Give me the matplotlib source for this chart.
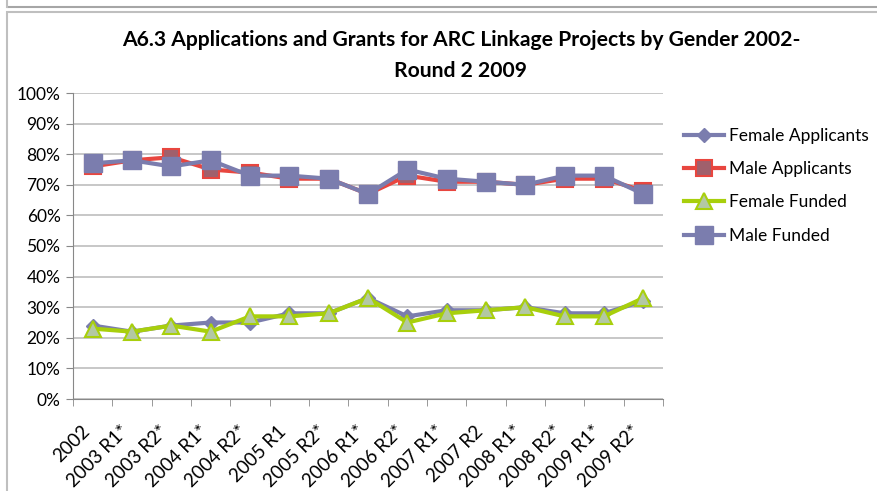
import matplotlib
matplotlib.use('Agg')
import matplotlib.pyplot as plt
from matplotlib.patches import Rectangle
from matplotlib.lines import Line2D
import matplotlib.transforms as mtransforms
import numpy as np

plt.rcParams['font.family'] = ['Lato', 'DejaVu Sans']

rounds = ['2002', '2003 R1*', '2003 R2*', '2004 R1*', '2004 R2*', '2005 R1',
          '2005 R2*', '2006 R1*', '2006 R2*', '2007 R1*', '2007 R2', '2008 R1*',
          '2008 R2*', '2009 R1*', '2009 R2*']

# percentages per round
female_applicants = [24, 22, 24, 25, 25, 28, 28, 33, 27, 29, 29, 30, 28, 28, 32]
male_applicants = [76, 78, 79, 75, 74, 72, 72, 67, 73, 71, 71, 70, 72, 72, 68]
female_funded = [23, 22, 24, 22, 27, 27, 28, 33, 25, 28, 29, 30, 27, 27, 33]
male_funded = [77, 78, 76, 78, 73, 73, 72, 67, 75, 72, 71, 70, 73, 73, 67]

blue = '#7B7DAE'
red = '#E8463F'
green = '#A8CF0C'

fig = plt.figure(figsize=(8.77, 4.91), dpi=100)

# chart frame
fig.patches.append(Rectangle((7/877, -0.01), 1.0, 1 - 12/491 + 0.01, transform=fig.transFigure,
                             fill=False, edgecolor='#BFBFBF', linewidth=1.5))
fig.lines.append(Line2D([8/877, 1], [1 - 7/491, 1 - 7/491], transform=fig.transFigure,
                        color='#A6A6A6', linewidth=1.5))
fig.lines.append(Line2D([7/877, 7/877], [1 - 7/491, 1], transform=fig.transFigure,
                        color='#BFBFBF', linewidth=1.5))

ax = fig.add_axes([73/877, 1 - 399/491, 590/877, 306/491])
x = np.arange(len(rounds))

ax.plot(x, female_applicants, color=blue, lw=3, marker='D', ms=7,
        mfc=blue, mec=blue, label='Female Applicants', zorder=3)
ax.plot(x, male_applicants, color=red, lw=3, marker='s', ms=11,
        mfc='#A0606C', mec=red, mew=1.5, label='Male Applicants', zorder=3)
ax.plot(x, female_funded, color=green, lw=3, marker='^', ms=12,
        mfc='#B3C8A4', mec=green, mew=1.5, label='Female Funded', zorder=4)
ax.plot(x, male_funded, color=blue, lw=3, marker='s', ms=13,
        mfc=blue, mec=blue, label='Male Funded', zorder=5)

ax.set_xlim(-0.5, len(rounds) - 0.5)
ax.set_ylim(0, 100)
ax.set_yticks(np.arange(0, 101, 10))
ax.set_yticklabels([f'{v}%' for v in range(0, 101, 10)], fontsize=12.5)
ax.yaxis.grid(True, color='#BEBEBE', linewidth=1.2)
ax.set_axisbelow(True)

ax.set_xticks(x)
ax.set_xticklabels(rounds, rotation=45, ha='right', rotation_mode='anchor', fontsize=13.5)
ax.set_xticks(np.arange(-0.5, len(rounds), 1), minor=True)
ax.tick_params(axis='x', which='major', length=0, pad=17)
ax.tick_params(axis='x', which='minor', length=5, color='#888888', direction='out')
ax.tick_params(axis='y', length=5, color='#888888', pad=4)
offset = mtransforms.ScaledTranslation(-0.12, 0, fig.dpi_scale_trans)
for lbl in ax.get_xticklabels():
    lbl.set_transform(lbl.get_transform() + offset)

for side in ['top', 'right']:
    ax.spines[side].set_visible(False)
ax.spines['left'].set_color('#888888')
ax.spines['bottom'].set_color('#888888')

fig.text(461/877, 1 - 40/491, 'A6.3 Applications and Grants for ARC Linkage Projects by Gender 2002-',
         ha='center', va='center', fontsize=15.2, fontweight='bold')
fig.text(461/877, 1 - 71/491, 'Round 2 2009', ha='center', va='center',
         fontsize=15.2, fontweight='bold')

fig.legend(loc='upper left', bbox_to_anchor=(668/877, 1 - 112/491), frameon=False,
           fontsize=12.5, handlelength=2.3, labelspacing=1.0, handletextpad=0.3)

fig.savefig('out.png', dpi=100)
